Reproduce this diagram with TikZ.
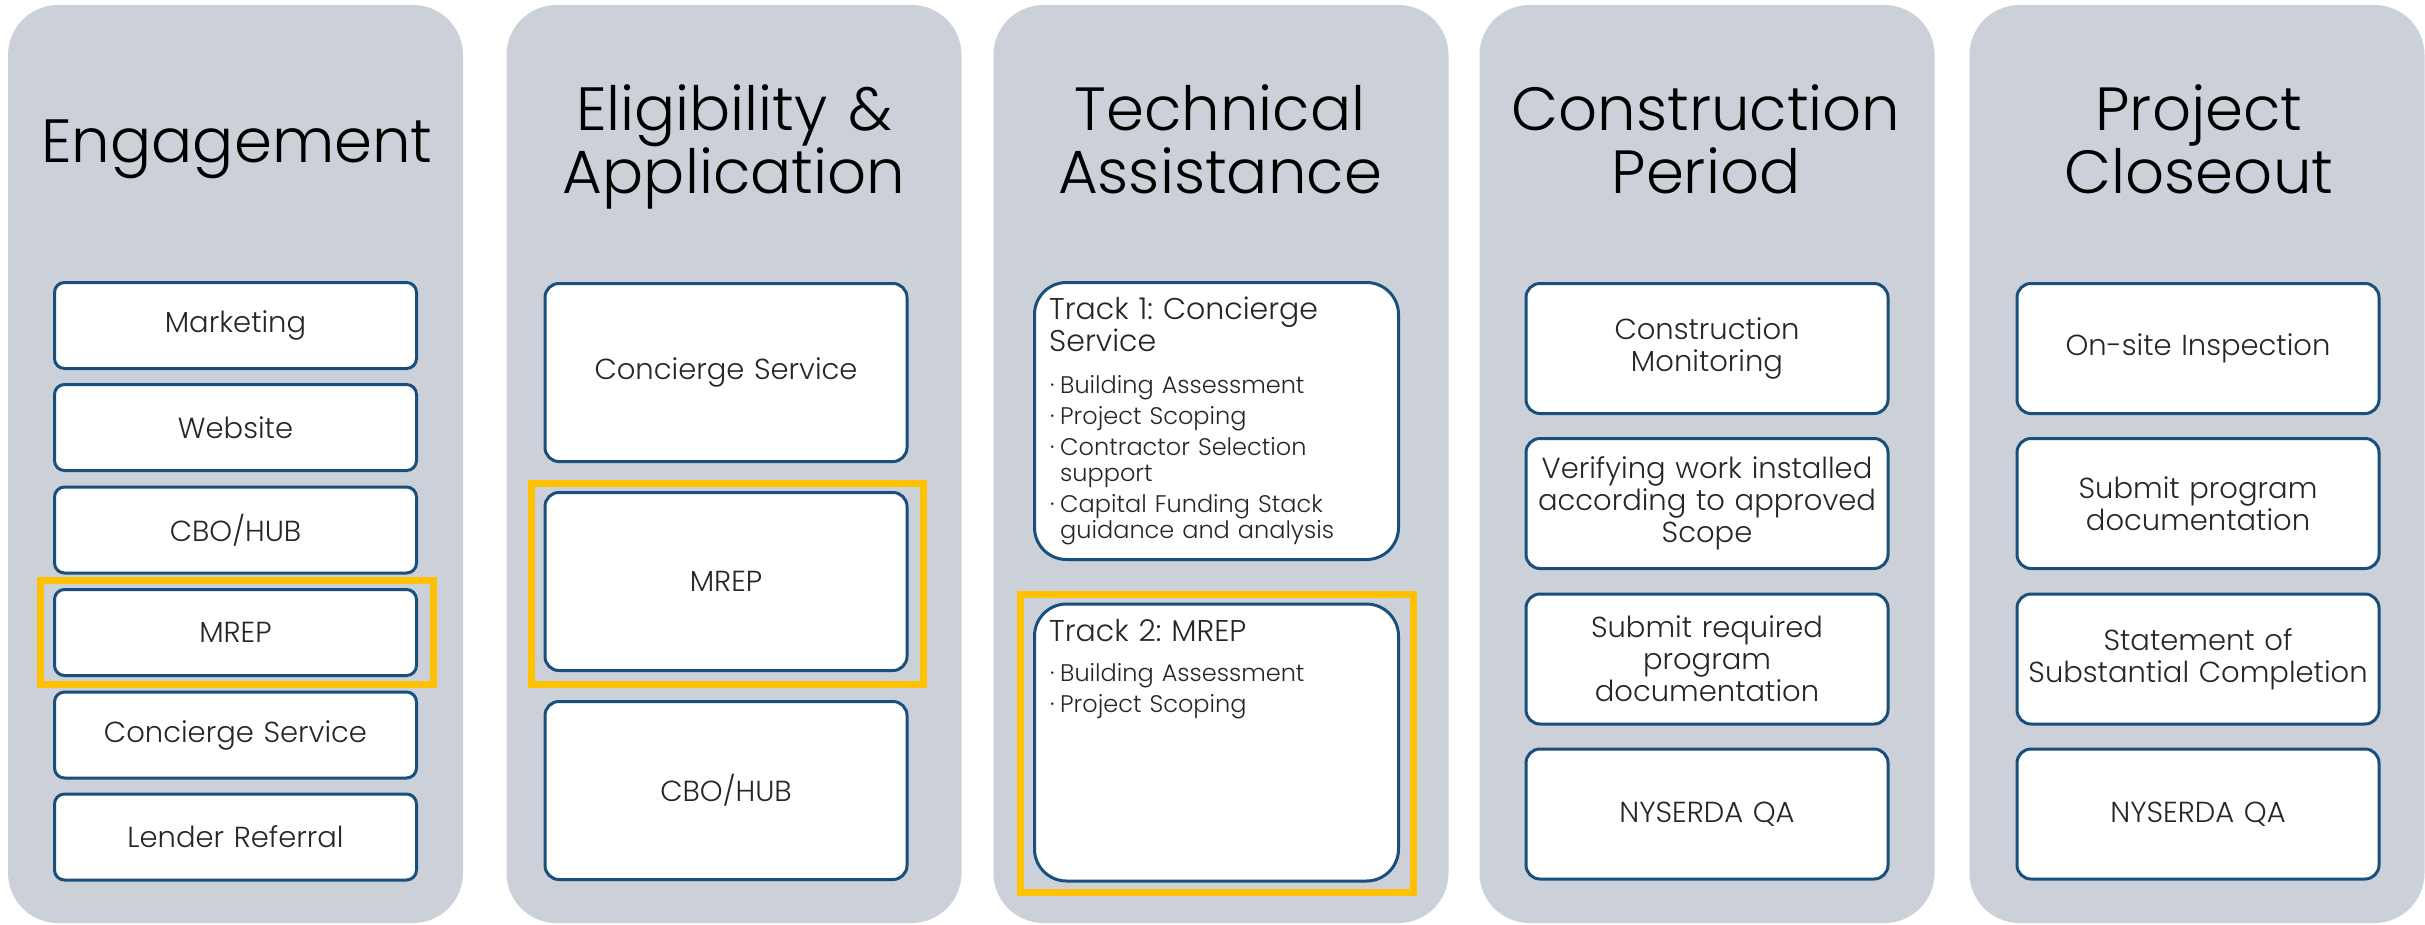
\documentclass[tikz,border=0pt]{standalone}
\usepackage{fontspec}
\setmainfont{Poppins}[UprightFont={* Light}]
\frenchspacing
\definecolor{colfill}{HTML}{CBD0D9}
\definecolor{boxline}{HTML}{1B4F7B}
\definecolor{hlyellow}{HTML}{FFC000}
\definecolor{boxtext}{HTML}{262626}
% bullet mark and the indent of a wrapped bullet line
\newcommand{\tpdot}{\makebox[10pt][l]{·}}
\newcommand{\tpwrap}{\hspace*{10pt}}
\tikzset{
  phase/.style={fill=colfill, draw=none, rounded corners=50pt, minimum width=455pt, minimum height=918pt, inner sep=0pt},
  phasetitle/.style={text width=440pt, align=center, inner sep=0pt, anchor=base, font=\fontsize{61}{63}\selectfont, text=black},
  item/.style={draw=boxline, line width=3pt, fill=white, rounded corners=10pt, minimum width=362pt, minimum height=86pt, inner sep=0pt, text width=352pt, align=center, font=\fontsize{29}{32}\selectfont, text=boxtext},
  tallitem/.style={item, rounded corners=14pt, minimum height=178pt},
  miditem/.style={item, rounded corners=14pt, minimum height=130pt},
  track/.style={draw=boxline, line width=3pt, fill=white, rounded corners=32pt, minimum width=364pt, minimum height=277pt, inner sep=0pt},
  trackhead/.style={anchor=base west, inner sep=0pt, text width=340pt, align=left, font=\fontsize{30}{32}\selectfont, text=boxtext},
  tracklist/.style={anchor=base west, inner sep=0pt, text width=340pt, align=left, font=\fontsize{24}{26}\selectfont, text=boxtext},
  highlight/.style={draw=hlyellow, line width=7pt, inner sep=0pt},
}
\begin{document}
\begin{tikzpicture}[x=1pt,y=-1pt]
\useasboundingbox[fill=white] (0,0) rectangle (2425,924);

% phase columns
\node[phase] (c1) at (235.5,464) {};
\node[phase] (c2) at (734,464) {};
\node[phase] (c3) at (1221,464) {};
\node[phase] (c4) at (1707,464) {};
\node[phase] (c5) at (2197,464) {};

% column headings
\node[phasetitle] (h1) at (237,162) {Engagement};
\node[phasetitle] (h2) at (734,130) {Eligibility \&\\Application};
\node[phasetitle] (h3) at (1220,130) {Technical\\Assistance};
\node[phasetitle] (h4) at (1706,130) {Construction\\Period};
\node[phasetitle] (h5) at (2199,130) {Project\\Closeout};

% Engagement
\node[item] (e1) at (235.5,325.5) {Marketing};
\node[item] (e2) at (235.5,427.5) {Website};
\node[item] (e3) at (235.5,530) {CBO/HUB};
\node[item] (e4) at (235.5,632.5) {MREP};
\node[item] (e5) at (235.5,735) {Concierge Service};
\node[item] (e6) at (235.5,837) {Lender Referral};

% Eligibility & Application
\node[tallitem] (a1) at (726,372.5) {Concierge Service};
\node[tallitem] (a2) at (726,581.5) {MREP};
\node[tallitem] (a3) at (726,790.5) {CBO/HUB};

% Technical Assistance tracks
\node[track] (t1) at (1216.5,421) {};
\node[track] (t2) at (1216.5,742.5) {};
\node[trackhead] (t1h) at (1049,319) {Track 1: Concierge\\Service};
\node[tracklist] (t1l) at (1050,393) {%
  \tpdot Building Assessment\\[5pt]
  \tpdot Project Scoping\\[5pt]
  \tpdot Contractor Selection\\
  \tpwrap support\\[5pt]
  \tpdot Capital Funding Stack\\
  \tpwrap guidance and analysis};
\node[trackhead] (t2h) at (1049,641) {Track 2: MREP};
\node[tracklist] (t2l) at (1050,681) {%
  \tpdot Building Assessment\\[5pt]
  \tpdot Project Scoping};

% Construction Period
\node[miditem] (p1) at (1707,348.5) {Construction\\Monitoring};
\node[miditem] (p2) at (1707,503.5) {Verifying work installed\\according to approved\\Scope};
\node[miditem] (p3) at (1707,659) {Submit required\\program\\documentation};
\node[miditem] (p4) at (1707,814) {NYSERDA QA};

% Project Closeout
\node[miditem] (q1) at (2198,348.5) {On-site Inspection};
\node[miditem] (q2) at (2198,503.5) {Submit program\\documentation};
\node[miditem] (q3) at (2198,659) {Statement of\\Substantial Completion};
\node[miditem] (q4) at (2198,814) {NYSERDA QA};

% MREP pathway highlights
\node[highlight, minimum width=393pt, minimum height=104pt] (m1) at (237,632.5) {};
\node[highlight, minimum width=392pt, minimum height=201pt] (m2) at (727.5,584) {};
\node[highlight, minimum width=393pt, minimum height=298pt] (m3) at (1217,743.5) {};
\end{tikzpicture}
\end{document}
